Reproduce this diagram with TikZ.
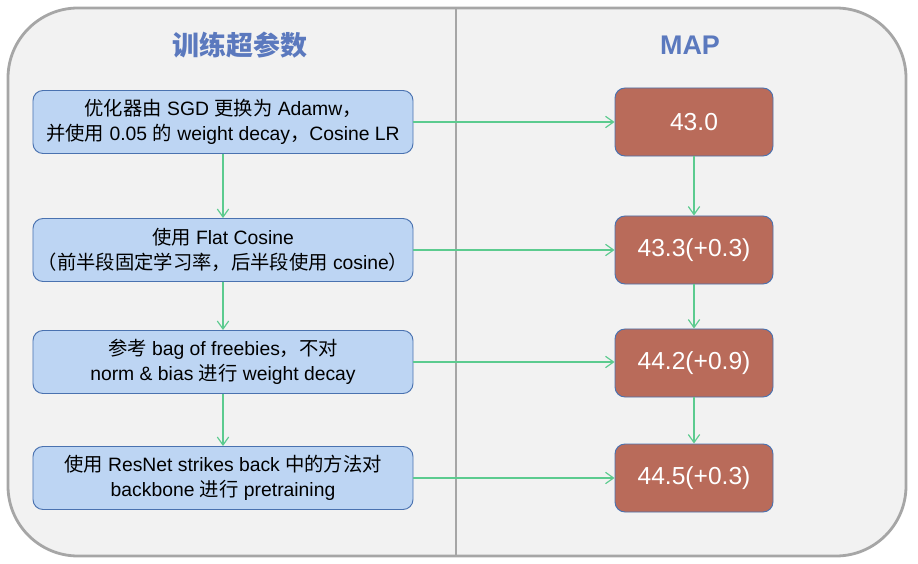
\documentclass[tikz,border=0pt]{standalone}
\usepackage{fontspec}
\setmainfont{Liberation Sans}
\newfontfamily\cjk{Noto Sans CJK SC}
\usetikzlibrary{arrows.meta,positioning}
\definecolor{panelfill}{HTML}{F2F2F2}
\definecolor{panelline}{HTML}{A6A6A6}
\definecolor{titleblue}{HTML}{5B79BE}
\definecolor{stepfill}{HTML}{BDD5F3}
\definecolor{boxline}{HTML}{4A72B0}
\definecolor{mapfill}{HTML}{B96B5A}
\definecolor{flowgreen}{HTML}{5CCB8F}

\begin{document}
\begin{tikzpicture}[x=0.03cm, y=-0.03cm,
  stepbox/.style={draw=boxline, fill=stepfill, rounded corners=0.3cm, line width=0.8pt,
    minimum width=11.4cm, minimum height=1.89cm, align=center,
    font=\fontsize{16.5}{21}\selectfont},
  mapbox/.style={draw=boxline, fill=mapfill, rounded corners=0.3cm, line width=0.8pt,
    minimum width=4.74cm, minimum height=2.04cm, text=white,
    font=\fontsize{21}{25}\selectfont},
  flow/.style={-{Straight Barb[length=0.24cm,width=0.34cm]}, draw=flowgreen, line width=1pt},
  coltitle/.style={text=titleblue, font=\fontsize{23}{27}\selectfont\bfseries}]
\useasboundingbox (0,0) rectangle (918,564);
% panel and divider
\draw[panelline, fill=panelfill, line width=2.4pt, rounded corners=2.1cm] (8,8) rectangle (906,556);
\draw[panelline, line width=2pt] (456,8) -- (456,556);
% column titles
\node[coltitle] (tleft) at (240,45) {\cjk 训练超参数};
\node[coltitle] (tright) at (690,45) {MAP};
% training settings
\node[stepbox] (s1) at (223,122) {{\cjk 优化器由} SGD {\cjk 更换为} Adamw{\cjk ，}\\{\cjk 并使用} 0.05 {\cjk 的} weight decay{\cjk ，}Cosine LR};
\node[stepbox] (s2) at (223,250) {{\cjk 使用} Flat Cosine\\{\cjk （前半段固定学习率，后半段使用} cosine{\cjk ）}};
\node[stepbox] (s3) at (223,362) {{\cjk 参考} bag of freebies{\cjk ，不对}\\norm \& bias {\cjk 进行} weight decay};
\node[stepbox] (s4) at (223,478) {{\cjk 使用} ResNet strikes back {\cjk 中的方法对}\\backbone {\cjk 进行} pretraining};
% results
\node[mapbox] (m1) at (694,122) {43.0};
\node[mapbox] (m2) at (694,250) {43.3(+0.3)};
\node[mapbox] (m3) at (694,363) {44.2(+0.9)};
\node[mapbox] (m4) at (694,478) {44.5(+0.3)};
% connectors
\draw[flow] (s1) -- (s2);
\draw[flow] (s2) -- (s3);
\draw[flow] (s3) -- (s4);
\draw[flow] (m1) -- (m2);
\draw[flow] (m2) -- (m3);
\draw[flow] (m3) -- (m4);
\draw[flow] (s1.east) -- (m1.west);
\draw[flow] (s2.east) -- (m2.west);
\draw[flow] (s3.east) -- (s3.east -| m3.west);
\draw[flow] (s4.east) -- (m4.west);
\end{tikzpicture}
\end{document}
